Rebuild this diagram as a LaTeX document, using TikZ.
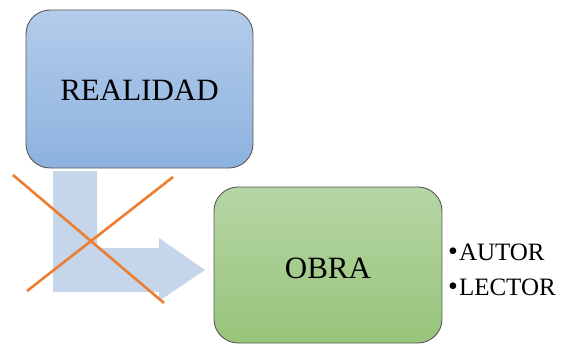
\documentclass[tikz,border=0pt]{standalone}
\usepackage{fontspec}
\setmainfont{Liberation Serif}
\begin{document}
\begin{tikzpicture}[x=1pt,y=-1pt,
  card/.style={draw=#1, line width=0.9pt, rounded corners=24pt, inner sep=0pt},
  lbl/.style={font=\fontsize{31}{36}\selectfont, inner sep=0pt, anchor=base},
  side/.style={font=\fontsize{25}{30}\selectfont, inner sep=0pt, anchor=base west},
  cross/.style={draw=crossorange, line width=2.6pt}]
\definecolor{blueTop}{HTML}{B3CCEA}
\definecolor{blueBot}{HTML}{8DB2DF}
\definecolor{greenTop}{HTML}{B6D6A5}
\definecolor{greenBot}{HTML}{97C47A}
\definecolor{arrowblue}{HTML}{C5D5EA}
\definecolor{crossorange}{HTML}{ED7D31}
\useasboundingbox (0,0) rectangle (563,345);

% boxes
\path[card=black!65, top color=blueTop, bottom color=blueBot]
  (26,10) rectangle (253,168);
\node[inner sep=0pt, minimum width=227pt, minimum height=158pt] (realidad) at (139.5,89) {};
\path[card=black!65, top color=greenTop, bottom color=greenBot]
  (214,187) rectangle (442,343);
\node[inner sep=0pt, minimum width=228pt, minimum height=156pt] (obra) at (328,265) {};

% labels
\node[lbl] (realidadtxt) at (139.5,100) {REALIDAD};
\node[lbl] (obratxt) at (328,278) {OBRA};
\node[side] (autor) at (448,260) {{\fontsize{28}{30}\selectfont•}\kern1pt AUTOR};
\node[side] (lector) at (448,295) {{\fontsize{28}{30}\selectfont•}\kern1pt LECTOR};

% bent arrow from the upper box to the lower one
\fill[arrowblue] (53,171) -- (97,171) -- (97,248) -- (159,248) -- (159,238)
  -- (205,270) -- (159,301) -- (159,292) -- (53,292) -- cycle;

% crossing-out strokes
\coordinate (c1a) at (13,175);
\coordinate (c1b) at (164,303);
\coordinate (c2a) at (27,291);
\coordinate (c2b) at (173,177);
\draw[cross] (c1a) -- (c1b);
\draw[cross] (c2a) -- (c2b);
\end{tikzpicture}
\end{document}
